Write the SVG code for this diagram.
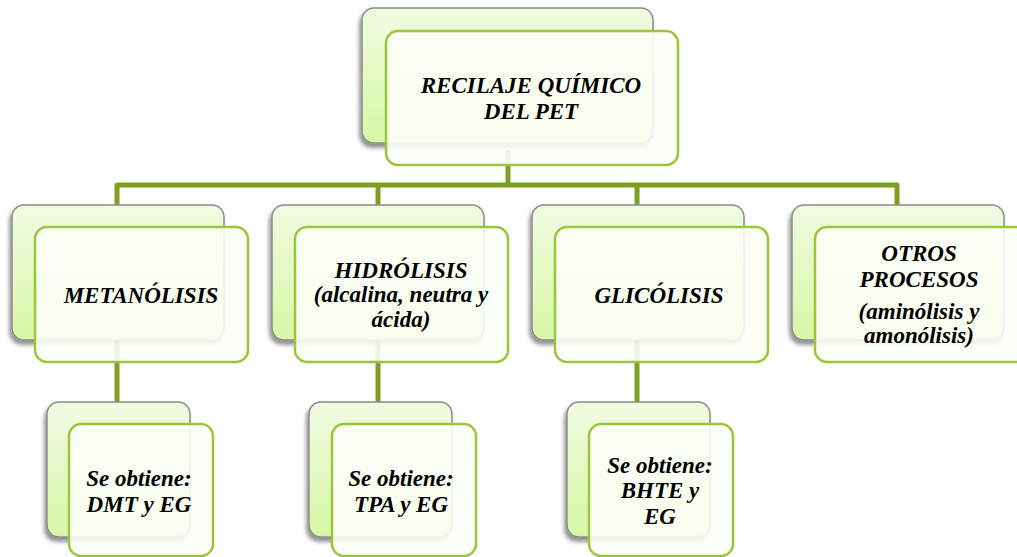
<svg xmlns="http://www.w3.org/2000/svg" width="1017" height="557" viewBox="0 0 1017 557">
  <defs>
    <linearGradient id="backFill" x1="0" y1="0" x2="0" y2="1">
      <stop offset="0" stop-color="#f1fbe2"/>
      <stop offset="1" stop-color="#d7f7a4"/>
    </linearGradient>
    <filter id="shadow" x="-20%" y="-20%" width="140%" height="150%">
      <feGaussianBlur in="SourceAlpha" stdDeviation="2.2"/>
      <feOffset dx="-2" dy="4" result="b"/>
      <feComponentTransfer><feFuncA type="linear" slope="0.45"/></feComponentTransfer>
      <feMerge><feMergeNode/><feMergeNode in="SourceGraphic"/></feMerge>
    </filter>
  </defs>
  <style>
    .back { fill: url(#backFill); stroke: #8a8a8a; stroke-width: 1.5; filter: url(#shadow); }
    .front { fill: #fcfef7; fill-opacity: 0.9; stroke: #9bc63b; stroke-width: 2.5; }
    .conn { fill: none; stroke: #7e9f1f; stroke-width: 5; stroke-linejoin: round; }
  </style>
  <rect width="1017" height="557" fill="#ffffff"/>

  <g id="connectors">
    <path class="conn" d="M508,150 V185"/>
    <path class="conn" d="M117,205 V185 H897 V205"/>
    <path class="conn" d="M378,185 V205"/>
    <path class="conn" d="M637,185 V205"/>
    <path class="conn" d="M117,335 V404"/>
    <path class="conn" d="M378,335 V404"/>
    <path class="conn" d="M637,335 V404"/>
  </g>

  <g id="node-root">
    <rect class="back" x="362" y="8" width="291" height="135" rx="12"/>
    <rect class="front" x="386" y="31" width="292" height="134" rx="12"/>
    <text x="531" y="93" text-anchor="middle" style="font-family:'Liberation Serif',serif !important;font-weight:bold !important;font-style:italic !important;font-size:23px !important;fill:#000">RECILAJE QUÍMICO</text>
    <text x="531" y="119" text-anchor="middle" style="font-family:'Liberation Serif',serif !important;font-weight:bold !important;font-style:italic !important;font-size:23px !important;fill:#000">DEL PET</text>
  </g>

  <g id="node-metanolisis">
    <rect class="back" x="12" y="205" width="212" height="135" rx="12"/>
    <rect class="front" x="35" y="227" width="213" height="135" rx="12"/>
    <text x="141" y="303" text-anchor="middle" style="font-family:'Liberation Serif',serif !important;font-weight:bold !important;font-style:italic !important;font-size:23px !important;fill:#000">METANÓLISIS</text>
  </g>

  <g id="node-hidrolisis">
    <rect class="back" x="272" y="205" width="212" height="135" rx="12"/>
    <rect class="front" x="295" y="227" width="213" height="135" rx="12"/>
    <text x="401" y="278" text-anchor="middle" style="font-family:'Liberation Serif',serif !important;font-weight:bold !important;font-style:italic !important;font-size:23px !important;fill:#000">HIDRÓLISIS</text>
    <text x="401" y="302" text-anchor="middle" style="font-family:'Liberation Serif',serif !important;font-weight:bold !important;font-style:italic !important;font-size:23px !important;fill:#000">(alcalina, neutra y</text>
    <text x="401" y="327" text-anchor="middle" style="font-family:'Liberation Serif',serif !important;font-weight:bold !important;font-style:italic !important;font-size:23px !important;fill:#000">ácida)</text>
  </g>

  <g id="node-glicolisis">
    <rect class="back" x="532" y="205" width="212" height="135" rx="12"/>
    <rect class="front" x="555" y="227" width="213" height="135" rx="12"/>
    <text x="659" y="303" text-anchor="middle" style="font-family:'Liberation Serif',serif !important;font-weight:bold !important;font-style:italic !important;font-size:23px !important;fill:#000">GLICÓLISIS</text>
  </g>

  <g id="node-otros">
    <rect class="back" x="792" y="205" width="212" height="135" rx="12"/>
    <rect class="front" x="815" y="227" width="213" height="135" rx="12"/>
    <text x="919" y="261" text-anchor="middle" style="font-family:'Liberation Serif',serif !important;font-weight:bold !important;font-style:italic !important;font-size:23px !important;fill:#000">OTROS</text>
    <text x="919" y="287" text-anchor="middle" style="font-family:'Liberation Serif',serif !important;font-weight:bold !important;font-style:italic !important;font-size:23px !important;fill:#000">PROCESOS</text>
    <text x="919" y="319" text-anchor="middle" style="font-family:'Liberation Serif',serif !important;font-weight:bold !important;font-style:italic !important;font-size:23px !important;fill:#000">(aminólisis y</text>
    <text x="919" y="343" text-anchor="middle" style="font-family:'Liberation Serif',serif !important;font-weight:bold !important;font-style:italic !important;font-size:23px !important;fill:#000">amonólisis)</text>
  </g>

  <g id="node-dmt">
    <rect class="back" x="47" y="402" width="143" height="135" rx="12"/>
    <rect class="front" x="69" y="424" width="144" height="132" rx="12"/>
    <text x="139" y="486" text-anchor="middle" style="font-family:'Liberation Serif',serif !important;font-weight:bold !important;font-style:italic !important;font-size:23px !important;fill:#000">Se obtiene:</text>
    <text x="139" y="512" text-anchor="middle" style="font-family:'Liberation Serif',serif !important;font-weight:bold !important;font-style:italic !important;font-size:23px !important;fill:#000">DMT y EG</text>
  </g>

  <g id="node-tpa">
    <rect class="back" x="309" y="402" width="143" height="135" rx="12"/>
    <rect class="front" x="332" y="424" width="144" height="132" rx="12"/>
    <text x="401" y="486" text-anchor="middle" style="font-family:'Liberation Serif',serif !important;font-weight:bold !important;font-style:italic !important;font-size:23px !important;fill:#000">Se obtiene:</text>
    <text x="401" y="512" text-anchor="middle" style="font-family:'Liberation Serif',serif !important;font-weight:bold !important;font-style:italic !important;font-size:23px !important;fill:#000">TPA y EG</text>
  </g>

  <g id="node-bhte">
    <rect class="back" x="567" y="402" width="143" height="135" rx="12"/>
    <rect class="front" x="589" y="424" width="144" height="132" rx="12"/>
    <text x="660" y="473" text-anchor="middle" style="font-family:'Liberation Serif',serif !important;font-weight:bold !important;font-style:italic !important;font-size:23px !important;fill:#000">Se obtiene:</text>
    <text x="660" y="498" text-anchor="middle" style="font-family:'Liberation Serif',serif !important;font-weight:bold !important;font-style:italic !important;font-size:23px !important;fill:#000">BHTE y</text>
    <text x="660" y="524" text-anchor="middle" style="font-family:'Liberation Serif',serif !important;font-weight:bold !important;font-style:italic !important;font-size:23px !important;fill:#000">EG</text>
  </g>
</svg>
